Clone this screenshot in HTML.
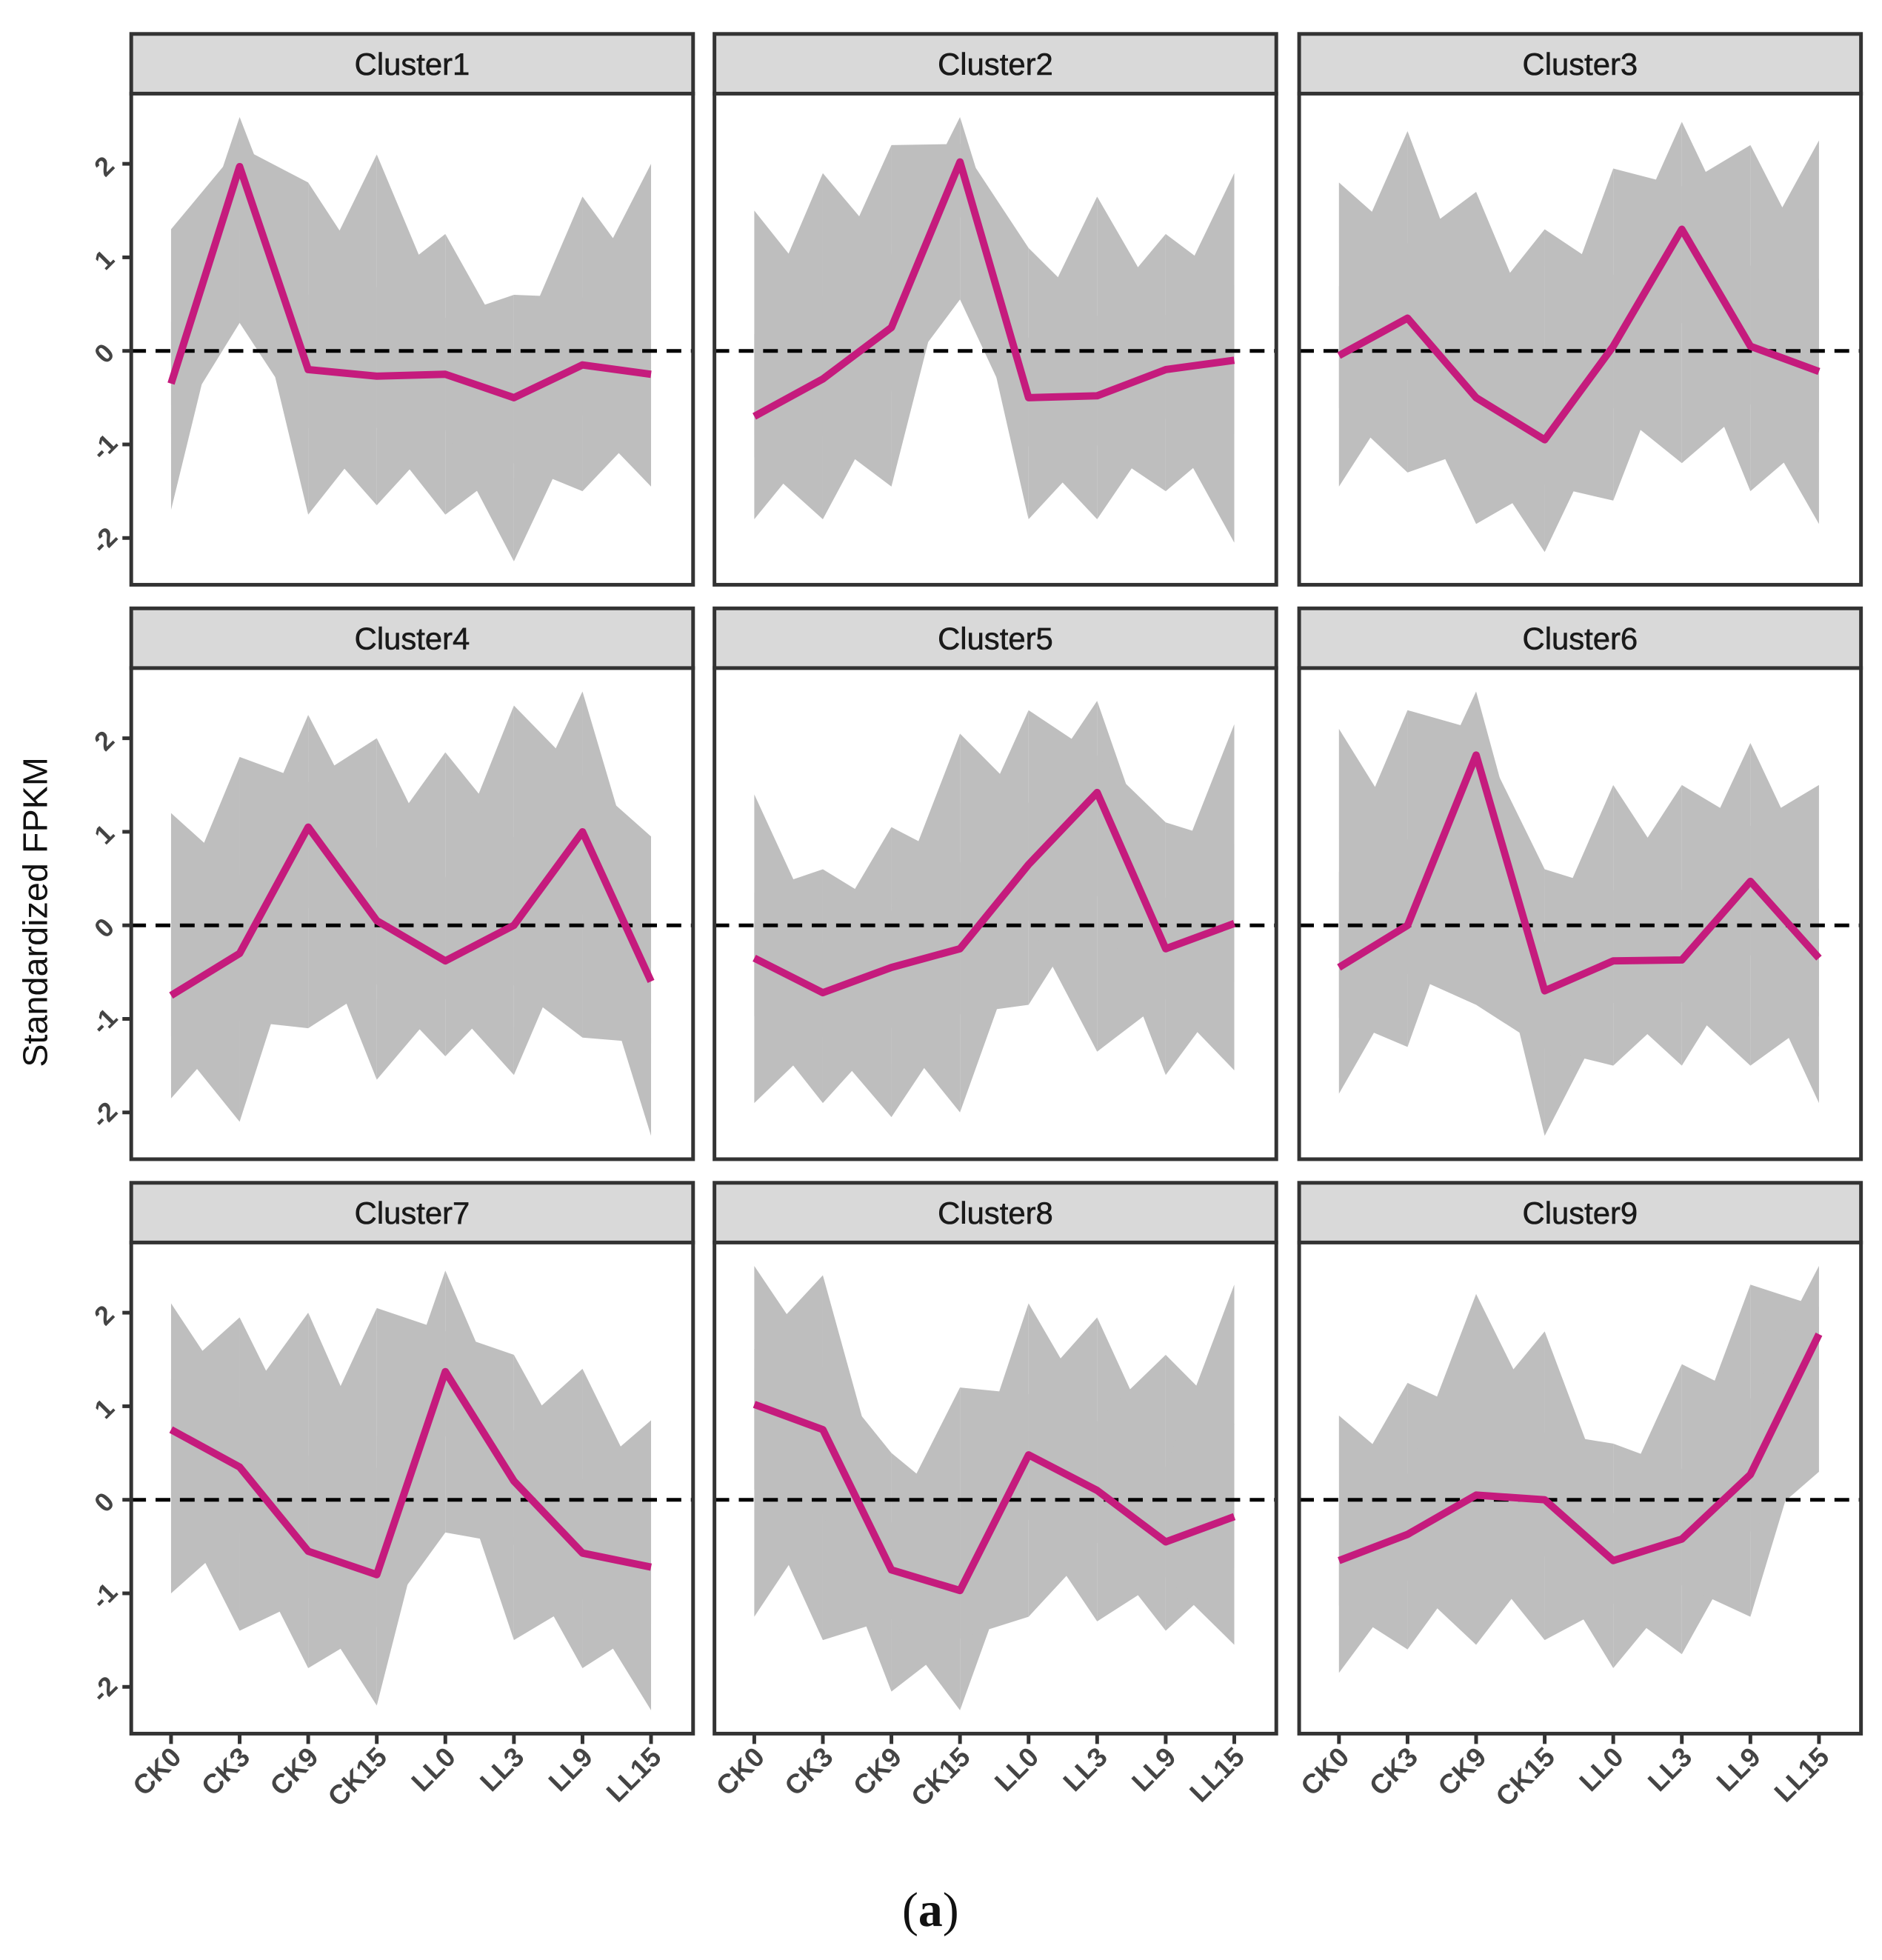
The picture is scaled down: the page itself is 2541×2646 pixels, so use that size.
<!DOCTYPE html>
<html><head><meta charset="utf-8"><style>
html,body{margin:0;padding:0;background:#fff;}
svg{display:block;}
</style></head><body>
<svg id="chart" width="2541" height="2646" viewBox="0 0 2541 2646" xmlns="http://www.w3.org/2000/svg" font-family="Liberation Sans, sans-serif">
<g transform="scale(0.9955)">
<text x="0" y="0" transform="translate(64,1237) rotate(-90)" text-anchor="middle" font-size="47" fill="#111">Standardized FPKM</text>
<text x="1262" y="2612" text-anchor="middle" font-family="Liberation Serif, serif" font-size="66" fill="#111">(<tspan font-weight="bold">a</tspan>)</text>
<g id="panels"></g>
</g>
</svg>
<script>
const categories = ["CK0","CK3","CK9","CK15","LL0","LL3","LL9","LL15"];
const clusterNames = ["Cluster1","Cluster2","Cluster3","Cluster4","Cluster5","Cluster6","Cluster7","Cluster8","Cluster9"];
const yTicks = [-2,-1,0,1,2];
const meanC1 = [-0.35,1.97,-0.2,-0.27,-0.25,-0.5,-0.15,-0.25];
const meanC2 = [-0.7,-0.3,0.25,2.02,-0.5,-0.48,-0.2,-0.1];
const meanC3 = [-0.05,0.35,-0.5,-0.95,0.05,1.3,0.05,-0.22];
const meanC4 = [-0.75,-0.3,1.05,0.05,-0.38,0.0,1.0,-0.6];
const meanC5 = [-0.35,-0.72,-0.45,-0.25,0.65,1.42,-0.25,0.02];
const meanC6 = [-0.45,0.0,1.82,-0.7,-0.38,-0.37,0.47,-0.35];
const meanC7 = [0.75,0.35,-0.55,-0.8,1.37,0.2,-0.57,-0.72];
const meanC8 = [1.02,0.75,-0.75,-0.97,0.48,0.1,-0.45,-0.18];
const meanC9 = [-0.65,-0.37,0.05,0.0,-0.65,-0.42,0.27,1.77];
const maxC1 = [1.3,2.5,1.8,2.1,1.25,0.6,1.65,2.0];
const maxC2 = [1.5,1.9,2.2,2.5,1.1,1.65,1.25,1.9];
const maxC3 = [1.8,2.35,1.7,1.3,1.95,2.45,2.2,2.25];
const maxC4 = [1.2,1.8,2.25,2.0,1.85,2.35,2.5,0.95];
const maxC5 = [1.4,0.6,1.05,2.05,2.3,2.4,1.1,2.15];
const maxC6 = [2.1,2.3,2.5,0.6,1.5,1.5,1.95,1.5];
const maxC7 = [2.1,1.95,2.0,2.05,2.45,1.55,1.4,0.85];
const maxC8 = [2.5,2.4,0.5,1.2,2.1,1.95,1.55,2.3];
const maxC9 = [0.9,1.25,2.2,1.8,0.6,1.45,2.3,2.5];
const minC1 = [-1.7,0.3,-1.75,-1.65,-1.75,-2.25,-1.5,-1.45];
const minC2 = [-1.8,-1.8,-1.45,0.55,-1.8,-1.8,-1.5,-2.05];
const minC3 = [-1.45,-1.3,-1.85,-2.15,-1.6,-1.2,-1.5,-1.85];
const minC4 = [-1.85,-2.1,-1.1,-1.65,-1.4,-1.6,-1.2,-2.25];
const minC5 = [-1.9,-1.9,-2.05,-2.0,-0.85,-1.35,-1.6,-1.55];
const minC6 = [-1.8,-1.3,-0.85,-2.25,-1.5,-1.5,-1.5,-1.9];
const minC7 = [-1.0,-1.4,-1.8,-2.2,-0.35,-1.5,-1.8,-2.25];
const minC8 = [-1.25,-1.5,-2.05,-2.25,-1.25,-1.3,-1.4,-1.55];
const minC9 = [-1.85,-1.6,-1.55,-1.5,-1.8,-1.65,-1.25,0.3];

const means=[meanC1,meanC2,meanC3,meanC4,meanC5,meanC6,meanC7,meanC8,meanC9];
const maxs=[maxC1,maxC2,maxC3,maxC4,maxC5,maxC6,maxC7,maxC8,maxC9];
const mins=[minC1,minC2,minC3,minC4,minC5,minC6,minC7,minC8,minC9];

const NS="http://www.w3.org/2000/svg";
const root=document.getElementById('panels');
const colX=[178,969,1762], panelW=762;
const stripTop=[46,825,1604], stripH=81, plotH=666;
const yMax=2.75, yMin=-2.5;
function mk(tag,attrs,parent){const e=document.createElementNS(NS,tag);for(const k in attrs)e.setAttribute(k,attrs[k]);(parent||root).appendChild(e);return e;}

for(let c=0;c<9;c++){
  const col=c%3,row=Math.floor(c/3);
  const x0=colX[col], top=stripTop[row]+stripH, bot=top+plotH;
  const xs=i=>x0+54+i*(panelW-111)/(categories.length-1);
  const ys=v=>top+(yMax-v)/(yMax-yMin)*plotH;
  const g=mk('g',{});
  
  
  const strip=mk('rect',{x:x0,y:stripTop[row],width:panelW,height:stripH,fill:'#d9d9d9',stroke:'#333','stroke-width':5},g);
  
  
  const st=mk('text',{x:x0+panelW/2,y:stripTop[row]+stripH/2+15,'text-anchor':'middle','font-size':42,fill:'#1a1a1a',stroke:'#1a1a1a','stroke-width':0.6},g);
  st.textContent=clusterNames[c];
  
  
  mk('rect',{x:x0,y:top,width:panelW,height:plotH,fill:'#fff'},g);
  const mx=maxs[c],mn=mins[c],me=means[c];
  const coreHi=mx.map((v,i)=>me[i]+0.4*(v-me[i]));
  const coreLo=mn.map((v,i)=>me[i]+0.4*(v-me[i]));
  const band=mk('g',{fill:'#bebebe'},g);
  
  
  for(let i=0;i<categories.length-1;i++){
    const a=xs(i),b=xs(i+1);
    mk('polygon',{points:`${a},${ys(mx[i])} ${b},${ys(coreHi[i+1])} ${b},${ys(coreLo[i+1])} ${a},${ys(mn[i])}`},band);
    mk('polygon',{points:`${a},${ys(coreHi[i])} ${b},${ys(mx[i+1])} ${b},${ys(mn[i+1])} ${a},${ys(coreLo[i])}`},band);
  }
  const zl=mk('line',{x1:x0,x2:x0+panelW,y1:ys(0),y2:ys(0),stroke:'#000','stroke-width':5,'stroke-dasharray':'20 13'},g);
  
  
  const ml=mk('polyline',{points:me.map((v,i)=>xs(i)+','+ys(v)).join(' '),fill:'none',stroke:'#c51b7d','stroke-width':10,'stroke-linejoin':'round'},g);
  
  
  const fr=mk('rect',{x:x0,y:top,width:panelW,height:plotH,fill:'none',stroke:'#333','stroke-width':5},g);
  
  
  if(col===0){
    yTicks.forEach(t=>{
      const y=ys(t);
      mk('line',{x1:x0-12,x2:x0,y1:y,y2:y,stroke:'#333','stroke-width':5},g);
      const tl=mk('text',{x:0,y:0,transform:`translate(${x0-28},${y+12}) rotate(-45)`,'text-anchor':'middle','font-size':36,'font-weight':'bold',fill:'#444'},g);
      tl.textContent=String(t);
      
      
    });
  }
  if(row===2){
    categories.forEach((cat,i)=>{
      const x=xs(i);
      mk('line',{x1:x,x2:x,y1:bot,y2:bot+14,stroke:'#333','stroke-width':5},g);
      const tl=mk('text',{x:0,y:0,transform:`translate(${x+16},${bot+34}) rotate(-45)`,'text-anchor':'end','font-size':37,'font-weight':'bold',fill:'#444'},g);
      tl.textContent=cat;
      
      
    });
  }
}
</script>
</body></html>
